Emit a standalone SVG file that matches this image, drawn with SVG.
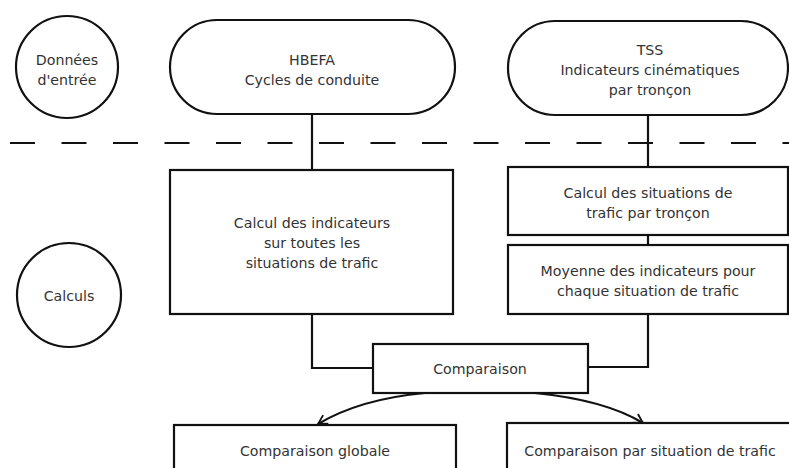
<svg xmlns="http://www.w3.org/2000/svg" width="789" height="468" viewBox="0 0 789 468">
  <style>
    .shape { fill: #ffffff; stroke: #111111; stroke-width: 2.2; }
    .wire { fill: none; stroke: #111111; stroke-width: 2.2; }
    .label { font-family: "DejaVu Sans", Verdana, sans-serif; font-size: 14.2px; fill: #333333; text-anchor: middle; }
  </style>
  <defs>
    <marker id="open-arrow" markerWidth="12" markerHeight="12" refX="10" refY="6" orient="auto" markerUnits="userSpaceOnUse">
      <path d="M1,1 L10,6 L1,11" fill="none" stroke="#111111" stroke-width="1.8"/>
    </marker>
  </defs>
  <rect width="789" height="468" fill="#ffffff"/>

  <!-- separator between input data and computations -->
  <line x1="10" y1="143" x2="789" y2="143" stroke="#111111" stroke-width="2.2" stroke-dasharray="25 26.5"/>

  <!-- connectors -->
  <g id="connectors">
    <line class="wire" x1="312" y1="114" x2="312" y2="170"/>
    <line class="wire" x1="648" y1="115" x2="648" y2="167"/>
    <line class="wire" x1="648" y1="235" x2="648" y2="245"/>
    <polyline class="wire" points="312,314 312,368 373,368"/>
    <polyline class="wire" points="648,314 648,367 588,367"/>
    <path class="wire" d="M425,393 Q360,399 318,424" marker-end="url(#open-arrow)"/>
    <path class="wire" d="M535,393 Q605,400 643,423" marker-end="url(#open-arrow)"/>
  </g>

  <g id="donnees-entree">
    <circle class="shape" cx="67" cy="67" r="51"/>
    <text class="label" x="67" y="65">Données</text>
    <text class="label" x="67" y="85">d'entrée</text>
  </g>

  <g id="hbefa">
    <rect class="shape" x="170" y="20" width="285" height="94" rx="47" ry="47"/>
    <text class="label" x="312" y="65">HBEFA</text>
    <text class="label" x="312" y="85">Cycles de conduite</text>
  </g>

  <g id="tss">
    <rect class="shape" x="508" y="21" width="280" height="94" rx="47" ry="47"/>
    <text class="label" x="650" y="55">TSS</text>
    <text class="label" x="650" y="75">Indicateurs cinématiques</text>
    <text class="label" x="650" y="95">par tronçon</text>
  </g>

  <g id="calculs">
    <circle class="shape" cx="69" cy="295" r="52"/>
    <text class="label" x="69" y="301">Calculs</text>
  </g>

  <g id="calcul-indicateurs">
    <rect class="shape" x="170" y="170" width="283" height="144"/>
    <text class="label" x="312" y="228">Calcul des indicateurs</text>
    <text class="label" x="312" y="248">sur toutes les</text>
    <text class="label" x="312" y="268">situations de trafic</text>
  </g>

  <g id="calcul-situations">
    <rect class="shape" x="508" y="167" width="280" height="68"/>
    <text class="label" x="648" y="198">Calcul des situations de</text>
    <text class="label" x="648" y="218">trafic par tronçon</text>
  </g>

  <g id="moyenne-indicateurs">
    <rect class="shape" x="508" y="245" width="280" height="69"/>
    <text class="label" x="648" y="276">Moyenne des indicateurs pour</text>
    <text class="label" x="648" y="296">chaque situation de trafic</text>
  </g>

  <g id="comparaison">
    <rect class="shape" x="373" y="344" width="215" height="49"/>
    <text class="label" x="480" y="374">Comparaison</text>
  </g>

  <g id="comparaison-globale">
    <rect class="shape" x="174" y="425" width="282" height="60"/>
    <text class="label" x="315" y="456">Comparaison globale</text>
  </g>

  <g id="comparaison-situation">
    <rect class="shape" x="507" y="423" width="290" height="60"/>
    <text class="label" x="650" y="456">Comparaison par situation de trafic</text>
  </g>
</svg>
